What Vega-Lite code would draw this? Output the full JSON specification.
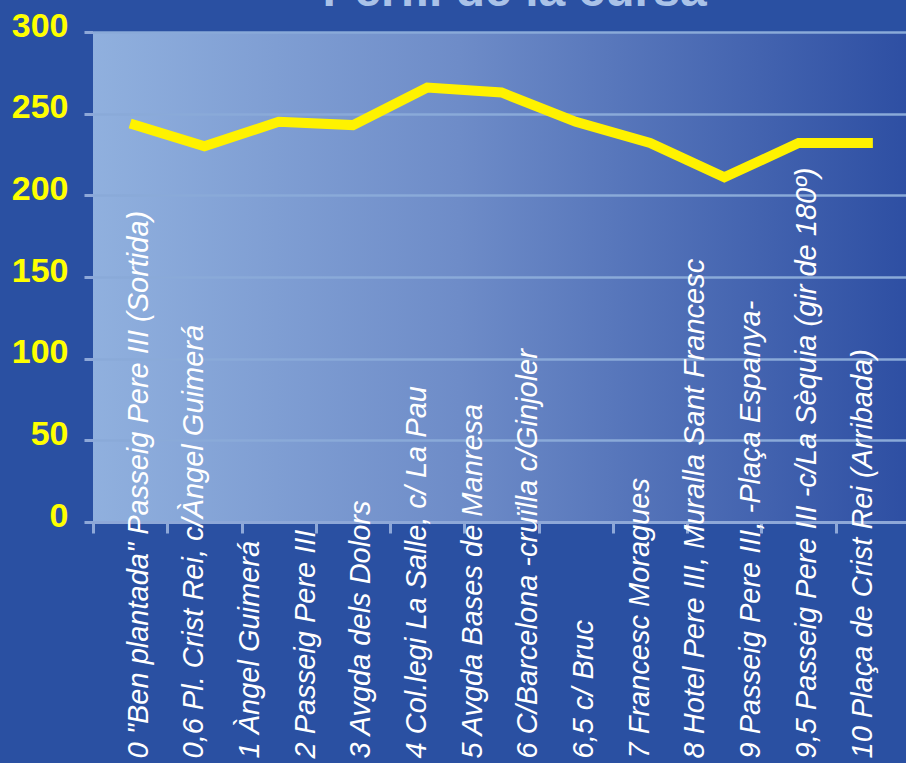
{
  "$schema": "https://vega.github.io/schema/vega-lite/v6.json",
  "width": 813,
  "height": 490,
  "autosize": {"type": "none"},
  "padding": {"left": 93, "top": 32, "right": 0, "bottom": 241},
  "background": "#2A50A2",
  "title": {
    "text": "Perfil de la cursa",
    "font": "Liberation Sans",
    "fontSize": 48,
    "fontWeight": "bold",
    "color": "#A9C2E8",
    "anchor": "middle",
    "frame": "group",
    "baseline": "alphabetic",
    "offset": 4,
    "dx": 15,
    "dy": 49
  },
  "config": {
    "view": {
      "stroke": null,
      "fill": {
        "gradient": "linear",
        "x1": 0, "y1": 0, "x2": 1, "y2": 0,
        "stops": [
          {"offset": 0, "color": "#90B0DE"},
          {"offset": 0.45, "color": "#6E8CC8"},
          {"offset": 1, "color": "#2E4FA3"}
        ]
      }
    }
  },
  "datasets": {
    "perfil": [
      {"punt": 1, "altitud": 244},
      {"punt": 2, "altitud": 230},
      {"punt": 3, "altitud": 245},
      {"punt": 4, "altitud": 243},
      {"punt": 5, "altitud": 266},
      {"punt": 6, "altitud": 263},
      {"punt": 7, "altitud": 245},
      {"punt": 8, "altitud": 232},
      {"punt": 9, "altitud": 211},
      {"punt": 10, "altitud": 232},
      {"punt": 11, "altitud": 232}
    ],
    "etiquetes": [
      {"etiqueta": "0 \"Ben plantada\" Passeig Pere III (Sortida)"},
      {"etiqueta": "0,6 Pl. Crist Rei, c/Àngel Guimerá"},
      {"etiqueta": "1 Àngel Guimerá"},
      {"etiqueta": "2 Passeig Pere III"},
      {"etiqueta": "3 Avgda dels Dolors"},
      {"etiqueta": "4 Col.legi La Salle, c/ La Pau"},
      {"etiqueta": "5 Avgda Bases de Manresa"},
      {"etiqueta": "6 C/Barcelona -cruïlla c/Ginjoler"},
      {"etiqueta": "6,5 c/ Bruc"},
      {"etiqueta": "7 Francesc Moragues"},
      {"etiqueta": "8 Hotel Pere III, Muralla Sant Francesc"},
      {"etiqueta": "9 Passeig Pere III, -Plaça Espanya-"},
      {"etiqueta": "9,5 Passeig Pere III -c/La Sèquia (gir de 180º)"},
      {"etiqueta": "10 Plaça de Crist Rei (Arribada)"}
    ]
  },
  "layer": [
    {
      "data": {"name": "perfil"},
      "mark": {"type": "line", "color": "#FFF200", "strokeWidth": 10, "strokeCap": "butt", "strokeJoin": "miter"},
      "encoding": {
        "x": {
          "field": "punt",
          "type": "ordinal",
          "sort": null,
          "scale": {"type": "band", "range": [0, 817], "paddingInner": 0, "paddingOuter": 0},
          "axis": {
            "title": null,
            "labels": false,
            "tickBand": "extent",
            "ticks": true,
            "tickColor": "#8EA8D8",
            "tickWidth": 3,
            "tickSize": 11,
            "domain": true,
            "domainColor": "#8EA8D8",
            "domainWidth": 3,
            "grid": false
          }
        },
        "y": {
          "field": "altitud",
          "type": "quantitative",
          "scale": {"domain": [0, 300], "nice": false, "zero": true},
          "axis": {
            "title": null,
            "values": [0, 50, 100, 150, 200, 250, 300],
            "grid": true,
            "gridColor": "#8AAAD8",
            "gridWidth": 2.5,
            "domain": false,
            "ticks": true,
            "tickColor": "#8EA8D8",
            "tickWidth": 3,
            "tickSize": 9,
            "labelFont": "Liberation Sans",
            "labelFontSize": 34,
            "labelFontWeight": "bold",
            "labelColor": "#FFFF00",
            "labelPadding": 16,
            "labelOffset": -6
          }
        }
      }
    },
    {
      "data": {"name": "etiquetes"},
      "mark": {"type": "point", "opacity": 0},
      "encoding": {
        "x": {
          "field": "etiqueta",
          "type": "nominal",
          "sort": null,
          "scale": {"type": "point", "range": [45, 769], "padding": 0},
          "axis": {
            "orient": "bottom",
            "title": null,
            "domain": false,
            "ticks": false,
            "grid": false,
            "labelAngle": 270,
            "labelAlign": "left",
            "labelBaseline": "middle",
            "labelPadding": 236,
            "labelFont": "Liberation Sans",
            "labelFontStyle": "italic",
            "labelFontSize": 29,
            "labelColor": "#FFFFFF",
            "labelLimit": 1000,
            "labelOverlap": false,
            "labelBound": false,
            "labelFlush": false
          }
        }
      }
    }
  ],
  "resolve": {"scale": {"x": "independent"}, "axis": {"x": "independent"}}
}
